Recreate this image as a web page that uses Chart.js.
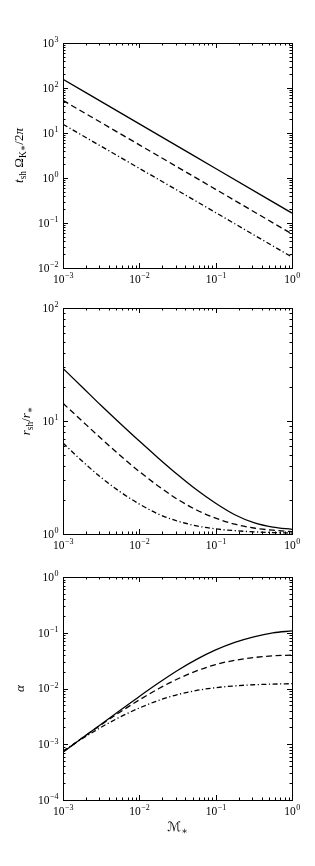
<!DOCTYPE html>
<html>
<head>
<meta charset="utf-8">
<script src="https://cdn.jsdelivr.net/npm/chart.js"></script>
<style>
  html, body { margin: 0; padding: 0; background: #fff; }
  #wrap { position: relative; width: 315px; height: 866px; }
  canvas { position: absolute; left: 0; }
</style>
</head>
<body>
<div id="wrap">
  <canvas id="c1" width="315" height="290" style="top:0px"></canvas>
  <canvas id="c2" width="315" height="265" style="top:290px"></canvas>
  <canvas id="c3" width="315" height="311" style="top:555px"></canvas>
</div>
<script>
// x values (M_*)
const massDecades = [0.001, 0.01, 0.1, 1];
const mass = [0.001, 0.00178, 0.00316, 0.00562, 0.01, 0.0178, 0.0316, 0.0562, 0.1, 0.178, 0.316, 0.562, 1];

// top panel: t_sh Omega_K* / 2pi
const tshSolid   = [156, 16.0, 1.63, 0.166];
const tshDashed  = [53, 5.45, 0.56, 0.057];
const tshDashDot = [15.6, 1.64, 0.17, 0.0175];

// middle panel: r_sh / r_*
const rshSolid   = [29.2, 20.0, 13.7, 9.5, 6.64, 4.69, 3.36, 2.46, 1.87, 1.48, 1.26, 1.15, 1.10];
const rshDashed  = [14.35, 10.0, 7.0, 4.95, 3.57, 2.65, 2.03, 1.63, 1.38, 1.22, 1.13, 1.08, 1.05];
const rshDashDot = [6.38, 4.42, 3.16, 2.36, 1.84, 1.50, 1.30, 1.18, 1.11, 1.07, 1.045, 1.03, 1.02];

// bottom panel: alpha
const alphaSolid   = [7.24e-4, 1.29e-3, 2.29e-3, 4.07e-3, 7.21e-3, 0.01253, 0.02104, 0.03334, 0.0493, 0.0673, 0.0847, 0.0995, 0.1079];
const alphaDashed  = [7.24e-4, 1.29e-3, 2.24e-3, 3.80e-3, 6.24e-3, 9.89e-3, 0.01479, 0.02065, 0.02692, 0.0320, 0.0359, 0.0385, 0.0398];
const alphaDashDot = [7.59e-4, 1.259e-3, 2.02e-3, 3.09e-3, 4.47e-3, 6.10e-3, 7.76e-3, 9.23e-3, 0.01035, 0.01114, 0.01167, 0.01199, 0.01219];

// tick labels (powers of ten)
const xExp  = [-3, -2, -1, 0];
const y1Exp = [-2, -1, 0, 1, 2, 3];
const y2Exp = [0, 1, 2];
const y3Exp = [-4, -3, -2, -1, 0];

const SERIF = "'Liberation Serif', 'DejaVu Serif', 'DejaVu Sans', serif";

function pts(xs, ys) {
  return xs.map((x, i) => ({ x: x, y: ys[i] }));
}

function tickList(exps) {
  const out = [];
  for (let i = 0; i < exps.length; i++) {
    const p = Math.pow(10, exps[i]);
    out.push({ v: p, major: true });
    if (i < exps.length - 1) {
      for (let k = 2; k <= 9; k++) out.push({ v: k * p, major: false });
    }
  }
  return out;
}

function drawPow(ctx, exp, x, y, align) {
  const base = '10';
  const sup = exp < 0 ? '\u2212' + (-exp) : String(exp);
  ctx.font = '11.5px ' + SERIF;
  const wb = ctx.measureText(base).width;
  ctx.font = '8px ' + SERIF;
  const ws = ctx.measureText(sup).width;
  const x0 = align === 'center' ? x - (wb + ws) / 2 : x - wb - ws;
  ctx.textAlign = 'left';
  ctx.textBaseline = 'alphabetic';
  ctx.font = '11.5px ' + SERIF;
  ctx.fillText(base, x0, y);
  ctx.font = '8px ' + SERIF;
  ctx.fillText(sup, x0 + wb + 0.5, y - 4.5);
}

function segFont(s) {
  return (s.it ? 'italic ' : '') + (s.sub ? '9.5px ' : '13px ') + SERIF;
}

function drawRich(ctx, segs, cx, cy, rotate) {
  ctx.save();
  ctx.translate(cx, cy);
  if (rotate) ctx.rotate(-Math.PI / 2);
  ctx.textAlign = 'left';
  ctx.textBaseline = 'alphabetic';
  let total = 0;
  const widths = segs.map(s => { ctx.font = segFont(s); const w = ctx.measureText(s.t).width; total += w; return w; });
  let x = -total / 2;
  segs.forEach((s, i) => {
    ctx.font = segFont(s);
    ctx.fillText(s.t, x, s.sub ? 3 : 0);
    x += widths[i];
  });
  ctx.restore();
}

// frame, inward ticks, labels and titles
const axesDeco = {
  id: 'axesDeco',
  afterDraw(chart, args, o) {
    const ctx = chart.ctx;
    const a = chart.chartArea;
    const xs = chart.scales.x, ys = chart.scales.y;
    ctx.save();
    ctx.strokeStyle = '#000';
    ctx.fillStyle = '#000';
    ctx.lineWidth = 1;
    ctx.beginPath();
    tickList(o.xExp).forEach(t => {
      const px = Math.round(xs.getPixelForValue(t.v)) + 0.5;
      const len = t.major ? 5 : 2.5;
      ctx.moveTo(px, a.bottom); ctx.lineTo(px, a.bottom - len);
      ctx.moveTo(px, a.top); ctx.lineTo(px, a.top + len);
    });
    tickList(o.yExp).forEach(t => {
      const py = Math.round(ys.getPixelForValue(t.v)) + 0.5;
      const len = t.major ? 5 : 2.5;
      ctx.moveTo(a.left, py); ctx.lineTo(a.left + len, py);
      ctx.moveTo(a.right, py); ctx.lineTo(a.right - len, py);
    });
    ctx.stroke();
    ctx.strokeRect(Math.round(a.left) + 0.5, Math.round(a.top) + 0.5,
                   Math.round(a.right - a.left), Math.round(a.bottom - a.top));

    o.xExp.forEach(e => drawPow(ctx, e, xs.getPixelForValue(Math.pow(10, e)), a.bottom + 14.5, 'center'));
    o.yExp.forEach(e => drawPow(ctx, e, a.left - 5, ys.getPixelForValue(Math.pow(10, e)) + 3.8, 'right'));

    drawRich(ctx, o.yTitle, o.yTitleX, (a.top + a.bottom) / 2 + (o.yTitleShift || 0), true);
    if (o.xTitle) drawRich(ctx, o.xTitle, (a.left + a.right) / 2, a.bottom + 31, false);
    ctx.restore();
  }
};

const lineStyles = [
  { dash: [] },
  { dash: [6, 3.5] },
  { dash: [5, 2.5, 1.2, 2.5] }
];

function makePanel(id, xs, series, yMin, yMax, yExp, deco, padTop, xHeight) {
  const names = ['solid', 'dashed', 'dash-dot'];
  return new Chart(document.getElementById(id), {
    type: 'line',
    data: {
      datasets: series.map((ys, i) => ({
        label: names[i],
        data: pts(xs, ys),
        borderColor: '#000',
        borderWidth: 1.3,
        borderDash: lineStyles[i].dash,
        pointRadius: 0,
        fill: false,
        cubicInterpolationMode: 'monotone'
      }))
    },
    options: {
      responsive: false,
      animation: false,
      layout: { padding: { top: padTop, right: 23, left: 0, bottom: 0 } },
      plugins: {
        legend: { display: false },
        tooltip: { enabled: false },
        axesDeco: Object.assign({ xExp: xExp, yExp: yExp }, deco)
      },
      scales: {
        x: {
          type: 'logarithmic', min: 0.001, max: 1,
          grid: { display: false }, border: { display: false },
          ticks: { display: false },
          afterFit: s => { s.height = xHeight; }
        },
        y: {
          type: 'logarithmic', min: yMin, max: yMax,
          grid: { display: false }, border: { display: false },
          ticks: { display: false },
          afterFit: s => { s.width = 63; }
        }
      }
    },
    plugins: [axesDeco]
  });
}

makePanel('c1', massDecades, [tshSolid, tshDashed, tshDashDot], 0.01, 1000, y1Exp, {
  yTitleX: 23, yTitleShift: 0,
  yTitle: [{ t: 't', it: 1 }, { t: 'sh', sub: 1 }, { t: ' \u03A9' }, { t: 'K\u2217', sub: 1 }, { t: '/2' }, { t: '\u03C0', it: 1 }]
}, 43, 22);

makePanel('c2', mass, [rshSolid, rshDashed, rshDashDot], 1, 100, y2Exp, {
  yTitleX: 30,
  yTitle: [{ t: 'r', it: 1 }, { t: 'sh', sub: 1 }, { t: '/' }, { t: 'r', it: 1 }, { t: '\u2217', sub: 1 }]
}, 18, 21);

makePanel('c3', mass, [alphaSolid, alphaDashed, alphaDashDot], 1e-4, 1, y3Exp, {
  yTitleX: 23.5,
  yTitle: [{ t: '\u03B1', it: 1 }],
  xTitle: [{ t: '\u2133', it: 1 }, { t: '\u2217', sub: 1 }]
}, 22, 66);
</script>
</body>
</html>
